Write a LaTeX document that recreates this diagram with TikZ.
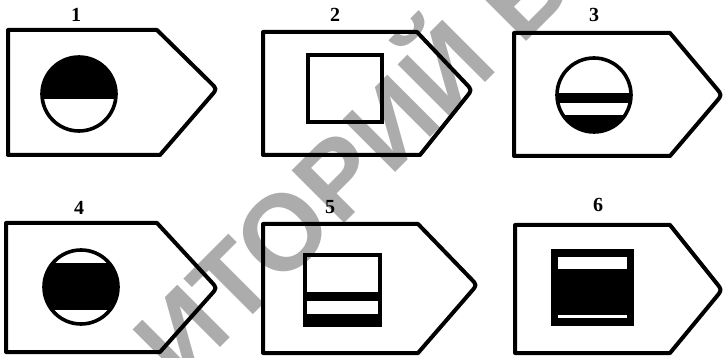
\documentclass[tikz,border=0pt]{standalone}
\usepackage{fontspec}
\setmainfont{Liberation Serif}
\newfontfamily\wmfont{Liberation Sans}
\usetikzlibrary{calc}
\definecolor{wm}{RGB}{172,172,172}
\tikzset{
  outline/.style={line width=4pt, line join=round},
  inner/.style={line width=3.6pt},
  lbl/.style={font=\fontsize{20}{20}\selectfont\bfseries, inner sep=0pt},
  wmstyle/.style={text=wm, rotate=45, anchor=base west, inner sep=0pt,
    font=\wmfont\bfseries\fontsize{108}{108}\selectfont},
}
\newcommand{\tagshape}[8]{%
  \coordinate (#1tl) at (#2,#3);
  \coordinate (#1tr) at (#4,#3);
  \coordinate (#1tip) at (#5,#6);
  \coordinate (#1br) at (#7,#8);
  \coordinate (#1bl) at (#2,#8);
  \draw[outline] (#1tl) -- (#1tr) -- ($(#1tip)!9pt!(#1tr)$)
    .. controls (#1tip) .. ($(#1tip)!9pt!(#1br)$) -- (#1br) -- (#1bl) -- cycle;}
\begin{document}
\begin{tikzpicture}[x=1pt,y=-1pt]
\useasboundingbox (0,0) rectangle (726,358);
\fill[white] (0,0) rectangle (726,358);
% watermark
\node[wmstyle] (wmark) at (180,388) {ИТОРИЙ БГУ};
% outlines
\tagshape{a}{8}{30}{157}{217}{89}{160}{155}
\tagshape{b}{263}{32}{417}{472}{90}{420}{155}
\tagshape{c}{514}{33}{670}{722}{95}{670}{156}
\tagshape{d}{6}{223}{157}{217}{288}{160}{352}
\tagshape{e}{263}{224}{418}{477}{285}{418}{353}
\tagshape{f}{515}{225}{670}{722}{290}{670}{353}
% labels
\node[lbl] (l1) at (76,15) {1};
\node[lbl] (l2) at (335,15) {2};
\node[lbl] (l3) at (594,15) {3};
\node[lbl] (l4) at (79,208) {4};
\node[lbl] (l5) at (330,207) {5};
\node[lbl] (l6) at (598,205) {6};
% symbol 1
\coordinate (c1) at (79,94);
\begin{scope}
  \clip (c1) circle (37pt);
  \fill (30,40) rectangle (130,99);
\end{scope}
\draw[inner] (c1) circle (37pt);
% symbol 2
\draw[inner] (308,55) rectangle (382,122);
% symbol 3
\coordinate (c3) at (594,95);
\begin{scope}
  \clip (c3) circle (37pt);
  \fill (540,93) rectangle (650,103);
  \fill (540,115) rectangle (650,140);
\end{scope}
\draw[inner] (c3) circle (37pt);
% symbol 4
\coordinate (c4) at (81,287);
\begin{scope}
  \clip (c4) circle (37pt);
  \fill (30,263) rectangle (130,310);
\end{scope}
\draw[inner] (c4) circle (37pt);
% symbol 5
\fill (305,292) rectangle (380,301);
\fill (305,314) rectangle (380,325);
\draw[inner] (305,255) rectangle (380,325);
% symbol 6
\filldraw[inner] (553,251) rectangle (632,324);
\fill[white] (558,257) rectangle (627,269);
\fill[white] (558,315) rectangle (627,318);
\end{tikzpicture}
\end{document}
